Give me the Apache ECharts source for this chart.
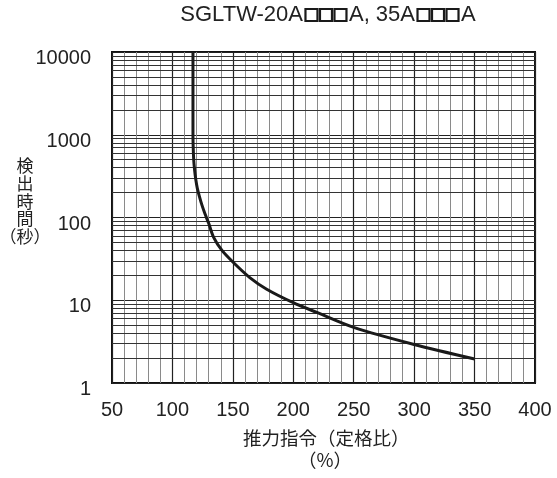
<!DOCTYPE html>
<html>
<head>
<meta charset="utf-8">
<script src="https://cdn.jsdelivr.net/npm/echarts@6/dist/echarts.min.js"></script>
<style>
html,body{margin:0;padding:0;background:#fff;}
#chart{width:557px;height:478px;}
</style>
</head>
<body>
<div id="chart"></div>
<script>
// Data
const titleParts = ['SGLTW-20A', '□□□', 'A, 35A', '□□□', 'A'];
const xAxisTitle = '推力指令（定格比）';
const xAxisUnit = '（%）';
const yAxisTitle = '検\n出\n時\n間\n（秒）';
const forcePct = [117, 117, 117.2, 117.6, 118.3, 119.3, 120.6, 122.3, 124.5, 127, 130, 134, 141, 150, 164, 178, 200, 220, 250, 300, 350];
const detectSec = [10000, 1000, 700, 500, 380, 290, 225, 180, 140, 110, 85, 58, 40, 29, 18.8, 13.6, 9.35, 7.07, 4.7, 2.92, 1.95];
const decades = [1, 10, 100, 1000];
const minorMultipliers = [2, 3, 4, 5, 6, 7, 8, 9];

const minorLines = [];
decades.forEach(d => minorMultipliers.forEach(m => minorLines.push({ yAxis: d * m })));

// Title built as rich text: squares drawn as bordered boxes
const titleRich = titleParts.map(p => {
  if (p[0] === '□') return '{gp| }' + p.split('').map(() => '{sq| }').join('{gp| }') + '{gp| }';
  return '{t|' + p + '}';
}).join('');

const chart = echarts.init(document.getElementById('chart'));
const font = '"Liberation Sans", Arial, sans-serif';
const cjk = '"Noto Sans CJK JP", sans-serif';
chart.setOption({
  animation: false,
  backgroundColor: '#fff',
  grid: { left: 112, right: 22, top: 52, bottom: 95, show: true, borderColor: '#111', borderWidth: 2, backgroundColor: 'transparent' },
  xAxis: {
    type: 'value', min: 50, max: 400, interval: 50,
    axisLine: { show: false }, axisTick: { show: false },
    axisLabel: { fontFamily: font, fontSize: 20, color: '#222', margin: 17 },
    splitLine: { show: true, lineStyle: { color: '#222', width: 1.2 } },
    minorTick: { show: false, splitNumber: 5 },
    minorSplitLine: { show: true, lineStyle: { color: '#8a8a8a', width: 1 } }
  },
  yAxis: {
    type: 'log', logBase: 10, min: 1, max: 10000,
    axisLine: { show: false }, axisTick: { show: false },
    axisLabel: {
      margin: 21,
      formatter: v => '{v|' + String(v) + '}',
      rich: { v: { fontFamily: font, fontSize: 20, color: '#222', padding: [13, 0, 0, 0] } }
    },
    splitLine: { show: true, lineStyle: { color: '#222', width: 1.2 } }
  },
  graphic: [
    {
      type: 'text', x: 328, y: 4,
      style: {
        text: titleRich, align: 'center', fill: '#222',
        fontFamily: font, fontSize: 22,
        rich: {
          t: { fontFamily: font, fontSize: 22, fill: '#222', height: 22 },
          sq: { width: 12, height: 12, borderColor: '#1a1a1a', borderWidth: 2.2, padding: 0, fontSize: 4 },
          gp: { width: 2.5, fontSize: 4 }
        }
      }
    },
    { type: 'text', x: 25, y: 157, style: { text: yAxisTitle, fontFamily: cjk, fontSize: 17, lineHeight: 17.7, align: 'center', fill: '#222' } },
    { type: 'text', x: 243, y: 429, style: { text: xAxisTitle, fontFamily: cjk, fontSize: 18.5, fill: '#222' } },
    { type: 'text', x: 325, y: 451, style: { text: xAxisUnit, fontFamily: cjk, fontSize: 18.5, align: 'center', fill: '#222' } }
  ],
  series: [{
    type: 'line',
    data: forcePct.map((x, i) => [x, detectSec[i]]),
    showSymbol: false,
    smooth: 0.3,
    lineStyle: { color: '#1a1a1a', width: 3 },
    z: 5,
    markLine: {
      silent: true, symbol: 'none', label: { show: false },
      lineStyle: { color: '#333', width: 1, type: 'solid' },
      data: minorLines,
      animation: false
    }
  }]
});
</script>
</body>
</html>
